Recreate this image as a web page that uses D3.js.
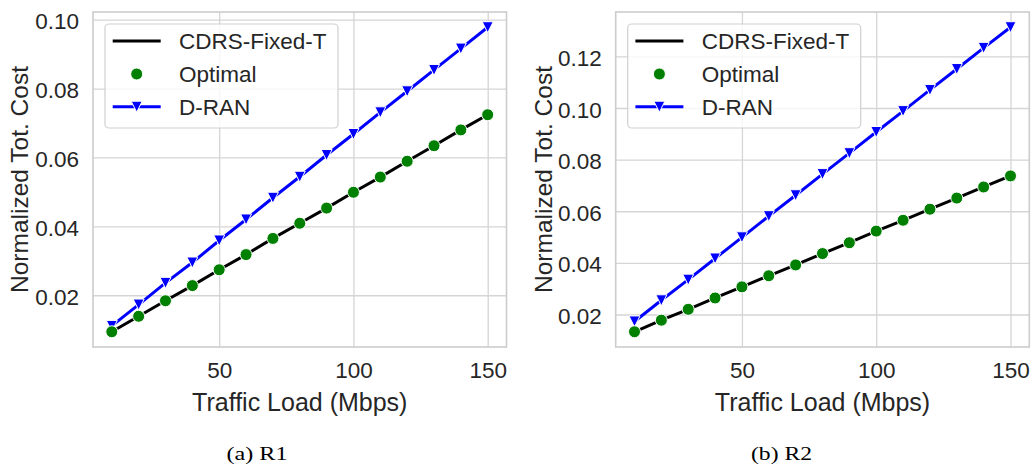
<!DOCTYPE html>
<html>
<head>
<meta charset="utf-8">
<script src="https://cdn.jsdelivr.net/npm/d3@7"></script>
<style>
  html, body { margin: 0; padding: 0; background: #ffffff; }
  svg { display: block; }
</style>
</head>
<body>
<svg id="chart" width="1032" height="465"></svg>
<script>
// ---------------- DATA ----------------
const trafficLoad = [10, 20, 30, 40, 50, 60, 70, 80, 90, 100, 110, 120, 130, 140, 150];

const r1Cdrs    = [0.0094, 0.0139, 0.0184, 0.0228, 0.0274, 0.0318, 0.0365, 0.0409, 0.0453, 0.0499, 0.0543, 0.0589, 0.0634, 0.0680, 0.0724];
const r1Optimal = [0.0094, 0.0139, 0.0184, 0.0228, 0.0274, 0.0318, 0.0365, 0.0409, 0.0453, 0.0499, 0.0543, 0.0589, 0.0634, 0.0680, 0.0724];
const r1Dran    = [0.0111, 0.0173, 0.0236, 0.0295, 0.0359, 0.0420, 0.0483, 0.0544, 0.0607, 0.0668, 0.0731, 0.0792, 0.0854, 0.0916, 0.0978];

const r2Cdrs    = [0.0133, 0.0178, 0.0220, 0.0264, 0.0307, 0.0350, 0.0392, 0.0436, 0.0478, 0.0523, 0.0565, 0.0608, 0.0651, 0.0694, 0.0737];
const r2Optimal = [0.0133, 0.0178, 0.0220, 0.0264, 0.0307, 0.0350, 0.0392, 0.0436, 0.0478, 0.0523, 0.0565, 0.0608, 0.0651, 0.0694, 0.0737];
const r2Dran    = [0.0173, 0.0255, 0.0335, 0.0417, 0.0499, 0.0581, 0.0662, 0.0744, 0.0825, 0.0907, 0.0988, 0.1070, 0.1151, 0.1233, 0.1313];

const xTicks   = [50, 100, 150];
const r1YTicks = [0.02, 0.04, 0.06, 0.08, 0.10];
const r2YTicks = [0.02, 0.04, 0.06, 0.08, 0.10, 0.12];

const seriesNames = ["CDRS-Fixed-T", "Optimal", "D-RAN"];
const xLabel = "Traffic Load (Mbps)";
const yLabel = "Normalized Tot. Cost";
const captions = ["(a) R1", "(b) R2"];

// ---------------- STYLE ----------------
const textColor = "#262626";
const gridColor = "#d5d5d5";
const spineColor = "#cccccc";
const sans = "'Liberation Sans', Arial, sans-serif";
const serif = "'Liberation Serif', 'Times New Roman', serif";

const svg = d3.select("#chart");

const panels = [
  { left: 93,    right: 506.5, top: 12, bottom: 347, cdrs: r1Cdrs, opt: r1Optimal, dran: r1Dran, yTicks: r1YTicks, caption: captions[0], capX: 257, yLabX: 19 },
  { left: 615.7, right: 1029.3, top: 12, bottom: 347, cdrs: r2Cdrs, opt: r2Optimal, dran: r2Dran, yTicks: r2YTicks, caption: captions[1], capX: 781.5, yLabX: 543 }
];

const triPath = (s) => {
  const h = s / 2;
  return `M${-h},${-h}L${h},${-h}L0,${h}Z`;
};

panels.forEach((p) => {
  const xMin = d3.min(trafficLoad), xMax = d3.max(trafficLoad);
  const xPad = (xMax - xMin) * 0.05;
  const allY = p.cdrs.concat(p.opt, p.dran);
  const yMin = d3.min(allY), yMax = d3.max(allY);
  const yPad = (yMax - yMin) * 0.05;

  const x = d3.scaleLinear().domain([xMin - xPad, xMax + xPad]).range([p.left, p.right]);
  const y = d3.scaleLinear().domain([yMin - yPad, yMax + yPad]).range([p.bottom, p.top]);

  const g = svg.append("g");

  // gridlines
  g.append("g")
    .attr("transform", `translate(0,${p.bottom})`)
    .call(d3.axisBottom(x).tickValues(xTicks).tickSize(-(p.bottom - p.top)).tickFormat(""))
    .call(s => s.select(".domain").remove())
    .call(s => s.selectAll("line").attr("stroke", gridColor).attr("stroke-width", 1.3));
  g.append("g")
    .attr("transform", `translate(${p.left},0)`)
    .call(d3.axisLeft(y).tickValues(p.yTicks).tickSize(-(p.right - p.left)).tickFormat(""))
    .call(s => s.select(".domain").remove())
    .call(s => s.selectAll("line").attr("stroke", gridColor).attr("stroke-width", 1.3));

  // tick labels (x)
  g.append("g")
    .attr("transform", `translate(0,${p.bottom})`)
    .call(d3.axisBottom(x).tickValues(xTicks).tickSize(0).tickPadding(15).tickFormat(d3.format("d")))
    .call(s => s.select(".domain").remove())
    .call(s => s.selectAll("text").attr("font-family", sans).attr("font-size", 22.5).attr("fill", textColor));

  // tick labels (y)
  g.append("g")
    .attr("transform", `translate(${p.left},0)`)
    .call(d3.axisLeft(y).tickValues(p.yTicks).tickSize(0).tickPadding(14).tickFormat(d3.format(".2f")))
    .call(s => s.select(".domain").remove())
    .call(s => s.selectAll("text").attr("font-family", sans).attr("font-size", 22.5).attr("fill", textColor).attr("dy", "0.4em"));

  // spines
  g.append("rect")
    .attr("x", p.left).attr("y", p.top)
    .attr("width", p.right - p.left).attr("height", p.bottom - p.top)
    .attr("fill", "none").attr("stroke", spineColor).attr("stroke-width", 1.6);

  const line = d3.line().x((d, i) => x(trafficLoad[i])).y(d => y(d));

  // D-RAN
  g.append("path").datum(p.dran)
    .attr("d", line).attr("fill", "none").attr("stroke", "#0000ff").attr("stroke-width", 3);
  g.selectAll(".tri").data(p.dran).enter().append("path")
    .attr("transform", (d, i) => `translate(${x(trafficLoad[i])},${y(d)})`)
    .attr("d", triPath(11))
    .attr("fill", "#0000ff").attr("stroke", "#ffffff").attr("stroke-width", 1);

  // CDRS-Fixed-T
  g.append("path").datum(p.cdrs)
    .attr("d", line).attr("fill", "none").attr("stroke", "#000000").attr("stroke-width", 3);

  // Optimal
  g.selectAll(".dot").data(p.opt).enter().append("circle")
    .attr("cx", (d, i) => x(trafficLoad[i])).attr("cy", d => y(d)).attr("r", 6)
    .attr("fill", "#008000").attr("stroke", "#ffffff").attr("stroke-width", 1);

  // legend
  const lx = p.left + 12, ly = p.top + 12;
  const leg = g.append("g");
  leg.append("rect")
    .attr("x", lx).attr("y", ly).attr("width", 233).attr("height", 104)
    .attr("rx", 4).attr("ry", 4)
    .attr("fill", "#ffffff").attr("fill-opacity", 0.8)
    .attr("stroke", "#d0d0d0").attr("stroke-width", 1.2);
  const rows = [ly + 17, ly + 50, ly + 82.7];
  const hx0 = lx + 7.7, hx1 = lx + 55.7, hxm = (hx0 + hx1) / 2;
  // CDRS
  leg.append("line").attr("x1", hx0).attr("x2", hx1).attr("y1", rows[0]).attr("y2", rows[0])
    .attr("stroke", "#000000").attr("stroke-width", 3);
  // Optimal
  leg.append("circle").attr("cx", hxm).attr("cy", rows[1]).attr("r", 6)
    .attr("fill", "#008000").attr("stroke", "#ffffff").attr("stroke-width", 1);
  // D-RAN
  leg.append("line").attr("x1", hx0).attr("x2", hx1).attr("y1", rows[2]).attr("y2", rows[2])
    .attr("stroke", "#0000ff").attr("stroke-width", 3);
  leg.append("path").attr("transform", `translate(${hxm},${rows[2]})`).attr("d", triPath(11))
    .attr("fill", "#0000ff").attr("stroke", "#ffffff").attr("stroke-width", 1);
  seriesNames.forEach((name, i) => {
    leg.append("text").attr("x", lx + 74).attr("y", rows[i]).attr("dy", "0.36em")
      .attr("font-family", sans).attr("font-size", 22.5).attr("fill", textColor).text(name);
  });

  // axis labels
  g.append("text")
    .attr("x", (p.left + p.right) / 2).attr("y", 411)
    .attr("text-anchor", "middle")
    .attr("font-family", sans).attr("font-size", 25).attr("fill", textColor)
    .text(xLabel);
  g.append("text")
    .attr("transform", `translate(${p.yLabX + 9},${(p.top + p.bottom) / 2}) rotate(-90)`)
    .attr("text-anchor", "middle")
    .attr("font-family", sans).attr("font-size", 24.5).attr("fill", textColor)
    .text(yLabel);

  // caption
  g.append("text")
    .attr("x", p.capX).attr("y", 460)
    .attr("text-anchor", "middle")
    .attr("font-family", serif).attr("font-size", 19.5).attr("fill", "#000000")
    .attr("textLength", 61).attr("lengthAdjust", "spacingAndGlyphs")
    .text(p.caption);
});
</script>
</body>
</html>
